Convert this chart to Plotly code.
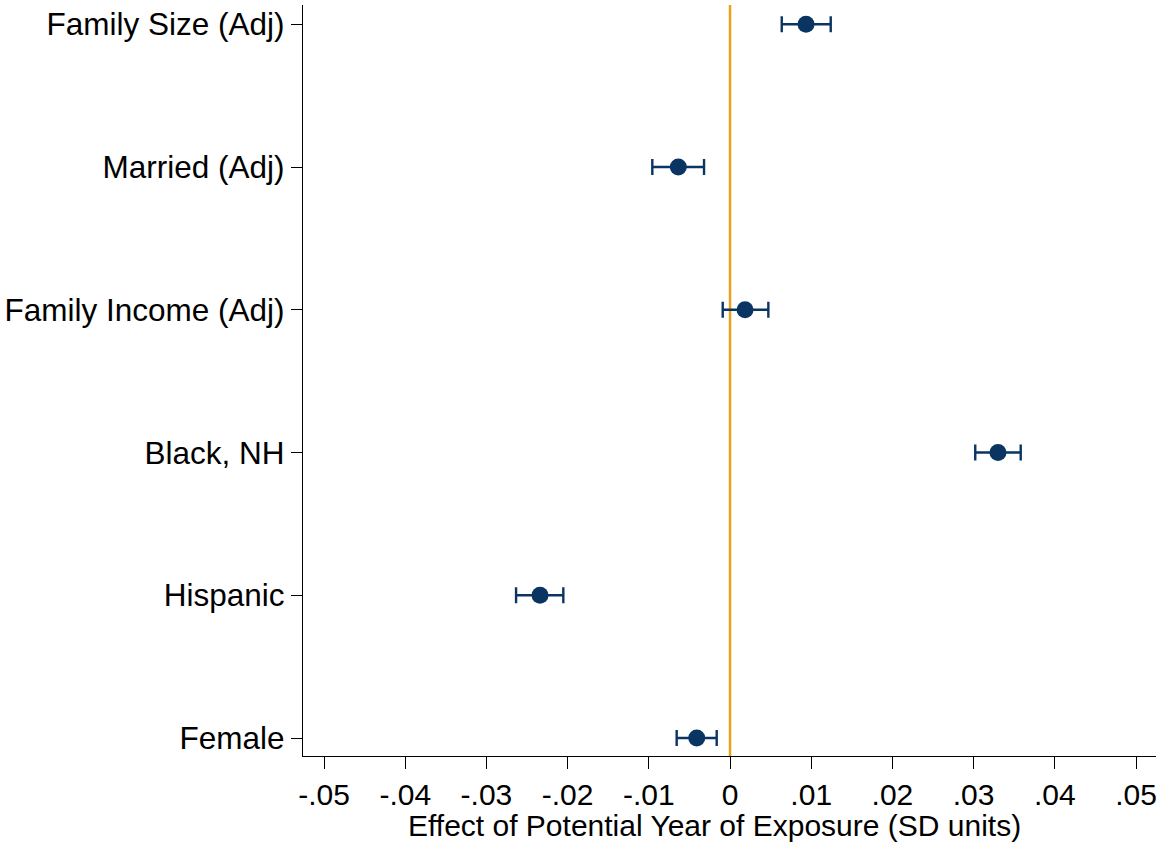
import plotly.graph_objects as go

categories = ["Female", "Hispanic", "Black, NH", "Family Income (Adj)", "Married (Adj)", "Family Size (Adj)"]
estimates = [-0.0041, -0.0234, 0.0330, 0.00185, -0.00637, 0.00936]
ci_low = [-0.00657, -0.02635, 0.0302, -0.0009, -0.00957, 0.00637]
ci_high = [-0.00164, -0.02053, 0.0358, 0.00472, -0.00320, 0.01240]
xtick_vals = [-0.05, -0.04, -0.03, -0.02, -0.01, 0, 0.01, 0.02, 0.03, 0.04, 0.05]
xtick_text = ["-.05", "-.04", "-.03", "-.02", "-.01", "0", ".01", ".02", ".03", ".04", ".05"]
x_title = "Effect of Potential Year of Exposure (SD units)"

ypos = list(range(len(categories)))
navy = "#0a3563"
orange = "#e8a21e"
font_family = "Liberation Sans, Arial, Helvetica, sans-serif"

fig = go.Figure()
fig.add_trace(go.Scatter(
    x=estimates, y=ypos, mode="markers",
    marker=dict(color=navy, size=17),
    error_x=dict(type="data", symmetric=False,
                 array=[h - e for h, e in zip(ci_high, estimates)],
                 arrayminus=[e - l for l, e in zip(ci_low, estimates)],
                 color=navy, thickness=2.4, width=8),
    showlegend=False,
))

fig.add_shape(type="line", xref="x", yref="paper", x0=0, x1=0, y0=0, y1=1,
              line=dict(color=orange, width=2.5), layer="below")

fig.add_annotation(text=x_title, xref="paper", yref="paper",
                   x=0.483, y=-0.0932, xanchor="center", yanchor="middle",
                   showarrow=False, font=dict(size=30))

fig.update_layout(
    width=1159, height=846,
    margin=dict(l=303, r=3, t=5, b=90),
    paper_bgcolor="white", plot_bgcolor="white",
    font=dict(family=font_family, size=30, color="black"),
    xaxis=dict(range=[-0.05259, 0.05246], tickvals=xtick_vals, ticktext=xtick_text,
               showgrid=False, zeroline=False, showline=True, linecolor="black", linewidth=1.2,
               ticks="outside", ticklen=12, tickwidth=1.2, tickcolor="black",
               tickfont=dict(size=30)),
    yaxis=dict(range=[-0.126, 5.135], tickvals=ypos, ticktext=categories,
               showgrid=False, zeroline=False, showline=True, linecolor="black", linewidth=1.2,
               ticks="outside", ticklen=11, tickwidth=1.2, tickcolor="black",
               tickfont=dict(size=31.5)),
)

fig.write_html("out.html")
